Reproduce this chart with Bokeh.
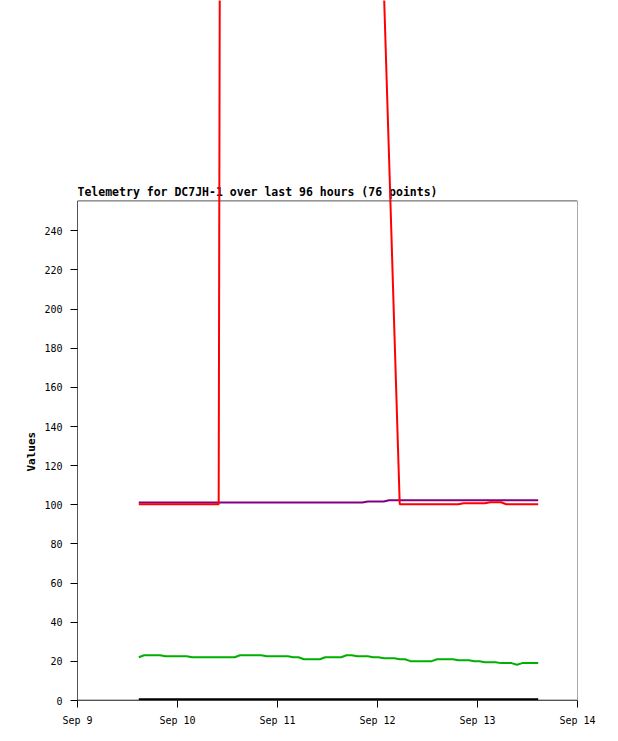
import numpy as np
from bokeh.plotting import figure
from bokeh.models import Range1d, FixedTicker, ColumnDataSource, Title
from bokeh.core.properties import value
from bokeh.embed import file_html
from bokeh.resources import INLINE

# ---- data ----
title_text = "Telemetry for DC7JH-1 over last 96 hours (76 points)"
y_label = "Values"
x_ticks = [9, 10, 11, 12, 13, 14]
x_tick_labels = ["Sep 9", "Sep 10", "Sep 11", "Sep 12", "Sep 13", "Sep 14"]
y_ticks = list(range(0, 241, 20))
y_top = 255.3            # top of the drawn plot box
t_start, t_end = 9.613, 13.607   # first / last sample (day of September)
n_points = 76

green = ([22.1] + [23.1]*4 + [22.6]*5 + [22.1]*9 + [23.1]*5 + [22.6]*5 +
         [22.1]*2 + [21.1]*4 + [22.1]*4 + [23.1]*2 + [22.6]*3 + [22.1]*2 +
         [21.6]*3 + [21.1]*2 + [20.1]*5 + [21.1]*4 + [20.6]*3 + [20.1]*2 +
         [19.6]*3 + [19.1]*3 + [18.3] + [19.1]*4)
purple = [101.2]*43 + [101.7]*4 + [102.3]*29
red = ([100.3]*16 + [1400]*29 + [454, 365, 277, 188] +
       [100.3]*12 + [100.8]*5 + [101.3]*3 + [100.3]*7)
black = [0.6]*76

times = np.linspace(t_start, t_end, n_points)

frame_h = 700
px_per_unit = (700 - 200.4) / y_top
y_max = frame_h / px_per_unit

p = figure(frame_width=500, frame_height=frame_h,
           min_border_left=77, min_border_right=33,
           min_border_top=0, min_border_bottom=33,
           x_range=Range1d(9, 14), y_range=Range1d(0, y_max),
           output_backend="svg", toolbar_location=None)
p.outline_line_color = None
p.grid.visible = False
p.background_fill_color = "white"
p.border_fill_color = "white"

mono = "DejaVu Sans Mono"
for ax in (p.xaxis[0], p.yaxis[0]):
    ax.axis_line_color = None
    ax.major_tick_out = 7
    ax.major_tick_in = 0
    ax.minor_tick_line_color = None
    ax.major_tick_line_color = "black"
    ax.major_label_text_font = mono
    ax.major_label_text_font_size = "10px"
    ax.major_label_text_color = "black"

p.xaxis.ticker = FixedTicker(ticks=x_ticks)
p.xaxis.major_label_overrides = dict(zip(x_ticks, x_tick_labels))
p.xaxis.major_label_standoff = 7
p.yaxis.ticker = FixedTicker(ticks=y_ticks)
p.yaxis.major_label_standoff = 8

# y-axis label as a left-side title, placed along the drawn box
p.add_layout(Title(text=y_label, align="left", offset=229, standoff=8,
                   text_font=mono, text_font_style="bold",
                   text_font_size="11px", text_color="black"), "left")

# plot box
p.quad(left=[x_ticks[0]], right=[x_ticks[-1]], bottom=[0], top=[y_top],
       fill_color=None, line_color="#555555", line_width=1)
p.line([x_ticks[0], x_ticks[0]], [0, y_top], line_color="black", line_width=1)
p.line([x_ticks[0], x_ticks[-1]], [0, 0], line_color="black", line_width=1.5)

# title
p.text(x=[x_ticks[0]], y=[y_top], text=[title_text], text_font=value(mono),
       text_font_style="bold", text_font_size="11.5px", text_color="black",
       text_baseline="bottom", text_align="left", y_offset=-2)

src = ColumnDataSource(dict(t=times, green=green, purple=purple, red=red, black=black))
p.line("t", "black", source=src, line_color="black", line_width=2)
p.line("t", "green", source=src, line_color="#00b000", line_width=2)
p.line("t", "purple", source=src, line_color="#800080", line_width=2)
p.line("t", "red", source=src, line_color="#ff0000", line_width=2)

open("out.html", "w").write(file_html(p, INLINE))
